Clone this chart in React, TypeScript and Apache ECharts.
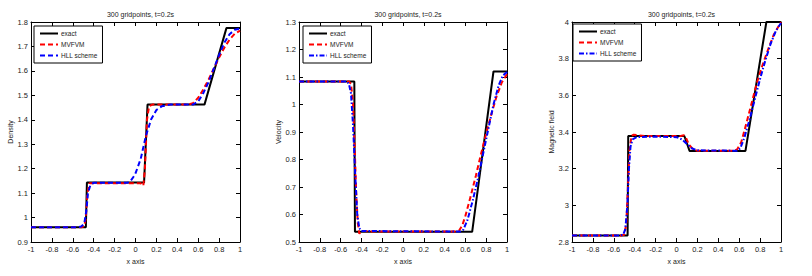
import React, { useEffect, useRef } from "react";
import * as echarts from "echarts";

type Pt = [number, number];

// ---------- data ----------
const TITLE = "300 gridpoints, t=0.2s";
const LEGEND_NAMES = ["exact", "MVFVM", "HLL scheme"];
const X_LABEL = "x axis";
const Y_LABELS = ["Density", "Velocity", "Magnetic field"];
const X_RANGE = { min: -1, max: 1, interval: 0.2 };
const Y_RANGES = [
  { min: 0.9, max: 1.8, interval: 0.1 },
  { min: 0.5, max: 1.3, interval: 0.1 },
  { min: 2.8, max: 4, interval: 0.2 },
];

const densityExact: Pt[] = [
  [-1, 0.96], [-0.475, 0.96], [-0.465, 1.143], [0.082, 1.143], [0.115, 1.462],
  [0.66, 1.462], [0.87, 1.775], [1, 1.775],
];
const densityMVFVM: Pt[] = [
  [-1, 0.96], [-0.52, 0.96], [-0.49, 0.965], [-0.475, 1.0], [-0.46, 1.1], [-0.44, 1.14],
  [0.05, 1.14], [0.075, 1.13], [0.09, 1.2], [0.11, 1.4], [0.13, 1.455], [0.16, 1.462],
  [0.5, 1.462], [0.55, 1.468], [0.6, 1.49], [0.65, 1.525], [0.7, 1.565], [0.75, 1.61],
  [0.8, 1.655], [0.85, 1.695], [0.9, 1.728], [0.95, 1.752], [1, 1.765],
];
const densityHLL: Pt[] = [
  [-1, 0.96], [-0.56, 0.96], [-0.52, 0.963], [-0.49, 0.975], [-0.47, 1.03], [-0.455, 1.1],
  [-0.43, 1.135], [-0.4, 1.142], [-0.08, 1.142], [-0.05, 1.148], [-0.005, 1.175],
  [0.05, 1.24], [0.1, 1.335], [0.15, 1.402], [0.2, 1.44], [0.25, 1.455], [0.33, 1.462],
  [0.55, 1.462], [0.6, 1.475], [0.65, 1.51], [0.7, 1.555], [0.75, 1.61], [0.8, 1.665],
  [0.85, 1.715], [0.9, 1.75], [0.95, 1.768], [1, 1.773],
];

const velocityExact: Pt[] = [
  [-1, 1.084], [-0.468, 1.084], [-0.462, 0.537], [0.665, 0.537], [0.87, 1.12], [1, 1.12],
];
const velocityMVFVM: Pt[] = [
  [-1, 1.084], [-0.52, 1.084], [-0.5, 1.075], [-0.48, 1.0], [-0.465, 0.85], [-0.45, 0.68],
  [-0.435, 0.57], [-0.42, 0.53], [-0.4, 0.54], [-0.3, 0.538], [0.5, 0.538], [0.54, 0.542],
  [0.57, 0.56], [0.6, 0.595], [0.65, 0.665], [0.7, 0.74], [0.75, 0.82], [0.8, 0.895],
  [0.85, 0.965], [0.9, 1.03], [0.95, 1.08], [1, 1.11],
];
const velocityHLL: Pt[] = [
  [-1, 1.084], [-0.54, 1.084], [-0.52, 1.075], [-0.5, 1.04], [-0.48, 0.92], [-0.46, 0.75],
  [-0.44, 0.6], [-0.42, 0.55], [-0.4, 0.54], [0.55, 0.538], [0.58, 0.545], [0.62, 0.58],
  [0.67, 0.65], [0.72, 0.73], [0.77, 0.82], [0.82, 0.91], [0.87, 1.0], [0.92, 1.07],
  [0.96, 1.105], [1, 1.118],
];

const magneticExact: Pt[] = [
  [-1, 2.835], [-0.468, 2.835], [-0.462, 3.378], [0.075, 3.378], [0.125, 3.297],
  [0.66, 3.297], [0.86, 4.0], [1, 4.0],
];
const magneticMVFVM: Pt[] = [
  [-1, 2.835], [-0.53, 2.835], [-0.5, 2.84], [-0.48, 2.9], [-0.465, 3.1], [-0.45, 3.3],
  [-0.43, 3.38], [-0.41, 3.385], [-0.3, 3.378], [0.04, 3.378], [0.07, 3.382], [0.09, 3.37],
  [0.12, 3.33], [0.16, 3.305], [0.2, 3.298], [0.55, 3.298], [0.58, 3.305], [0.62, 3.345],
  [0.67, 3.45], [0.72, 3.56], [0.77, 3.67], [0.82, 3.76], [0.87, 3.84], [0.93, 3.93], [1, 4.0],
];
const magneticHLL: Pt[] = [
  [-1, 2.835], [-0.55, 2.835], [-0.51, 2.84], [-0.49, 2.87], [-0.47, 3.0], [-0.455, 3.2],
  [-0.44, 3.32], [-0.42, 3.36], [-0.38, 3.372], [-0.2, 3.375], [0.0, 3.372], [0.05, 3.36],
  [0.1, 3.335], [0.15, 3.31], [0.2, 3.3], [0.58, 3.298], [0.61, 3.31], [0.65, 3.37],
  [0.7, 3.47], [0.75, 3.58], [0.8, 3.69], [0.85, 3.79], [0.9, 3.88], [0.95, 3.95], [1, 3.995],
];

const PANELS = [
  [densityExact, densityMVFVM, densityHLL],
  [velocityExact, velocityMVFVM, velocityHLL],
  [magneticExact, magneticMVFVM, magneticHLL],
];

// ---------- layout / style ----------
const FONT = "'Liberation Sans', Arial, sans-serif";
const TEXT_COLOR = "#222";
const GRIDS = [
  { left: 31, width: 209 },
  { left: 299, width: 208 },
  { left: 572, width: 209 },
];
const GRID_TOP = 22;
const GRID_HEIGHT = 220;
const LEGEND_POS = [
  { left: 34, top: 26 },
  { left: 303, top: 26 },
  { left: 573, top: 24 },
];
const Y_NAME_GAPS = [12, 13, 16];
const HLL_DASH = [[5, 3], [5, 2, 1.5, 2], [5, 2, 1.5, 2]];

function buildOption() {
  const grid: any[] = [];
  const xAxis: any[] = [];
  const yAxis: any[] = [];
  const series: any[] = [];
  const legend: any[] = [];
  const title: any[] = [];

  const tick = { show: true, inside: true, length: 4, lineStyle: { color: "#000", width: 1 } };
  const line = { show: true, onZero: false, lineStyle: { color: "#000", width: 1 } };
  const label = { color: TEXT_COLOR, fontSize: 7.5, fontFamily: FONT, margin: 3 };

  PANELS.forEach((curves, i) => {
    const g = GRIDS[i];
    grid.push({ left: g.left, width: g.width, top: GRID_TOP, height: GRID_HEIGHT, containLabel: false });
    title.push({
      text: TITLE,
      left: g.left + g.width / 2,
      textAlign: "center",
      top: 6,
      textStyle: { fontSize: 7, fontWeight: "normal", color: TEXT_COLOR, fontFamily: FONT },
    });
    const xi = xAxis.length;
    xAxis.push({
      type: "value", gridIndex: i, position: "bottom", ...X_RANGE,
      axisLine: line, axisTick: tick, splitLine: { show: false },
      axisLabel: { ...label, margin: 3 },
      name: X_LABEL, nameLocation: "middle", nameGap: 13,
      nameTextStyle: { fontSize: 7, color: TEXT_COLOR, fontFamily: FONT },
    });
    xAxis.push({
      type: "value", gridIndex: i, position: "top", ...X_RANGE,
      axisLine: line, axisTick: tick, splitLine: { show: false }, axisLabel: { show: false },
    });
    const yi = yAxis.length;
    yAxis.push({
      type: "value", gridIndex: i, position: "left", ...Y_RANGES[i],
      axisLine: line, axisTick: tick, splitLine: { show: false }, axisLabel: label,
      name: Y_LABELS[i], nameLocation: "middle", nameGap: Y_NAME_GAPS[i], nameRotate: 90,
      nameTextStyle: { fontSize: 7, color: TEXT_COLOR, fontFamily: FONT },
    });
    yAxis.push({
      type: "value", gridIndex: i, position: "right", ...Y_RANGES[i],
      axisLine: line, axisTick: tick, splitLine: { show: false }, axisLabel: { show: false },
    });

    const suffix = i === 0 ? "" : "#" + (i + 1);
    const styles = [
      { color: "#000", width: 2, type: "solid" },
      { color: "#ff0000", width: 2, type: [5, 3] },
      { color: "#0000ff", width: 2, type: HLL_DASH[i] },
    ];
    const names: string[] = [];
    curves.forEach((data, k) => {
      const name = LEGEND_NAMES[k] + suffix;
      names.push(name);
      series.push({
        type: "line", name, xAxisIndex: xi, yAxisIndex: yi, data,
        showSymbol: false, symbol: "none", z: 2 + k,
        lineStyle: styles[k], itemStyle: { color: styles[k].color },
      });
    });
    legend.push({
      data: names,
      orient: "vertical",
      left: LEGEND_POS[i].left,
      top: LEGEND_POS[i].top,
      itemWidth: 18,
      itemHeight: 8,
      itemGap: 4,
      padding: [4, 5, 4, 5],
      borderColor: "#000",
      borderWidth: 1,
      borderRadius: 0,
      backgroundColor: "#fff",
      selectedMode: false,
      itemStyle: { opacity: 0 },
      formatter: (n: string) => n.split("#")[0],
      textStyle: { fontSize: 6.5, color: TEXT_COLOR, fontFamily: FONT, padding: [0, 0, 0, -2] },
    });
  });

  return {
    animation: false,
    backgroundColor: "#fff",
    title, grid, xAxis, yAxis, series, legend,
  };
}

export default function App() {
  const ref = useRef<HTMLDivElement>(null);
  useEffect(() => {
    if (!ref.current) return;
    const chart = echarts.init(ref.current, undefined, { renderer: "svg" });
    chart.setOption(buildOption() as any);
    return () => chart.dispose();
  }, []);
  return (
    <div
      ref={ref}
      style={{ position: "fixed", left: 0, top: 0, width: 812, height: 276, background: "#fff" }}
    />
  );
}
